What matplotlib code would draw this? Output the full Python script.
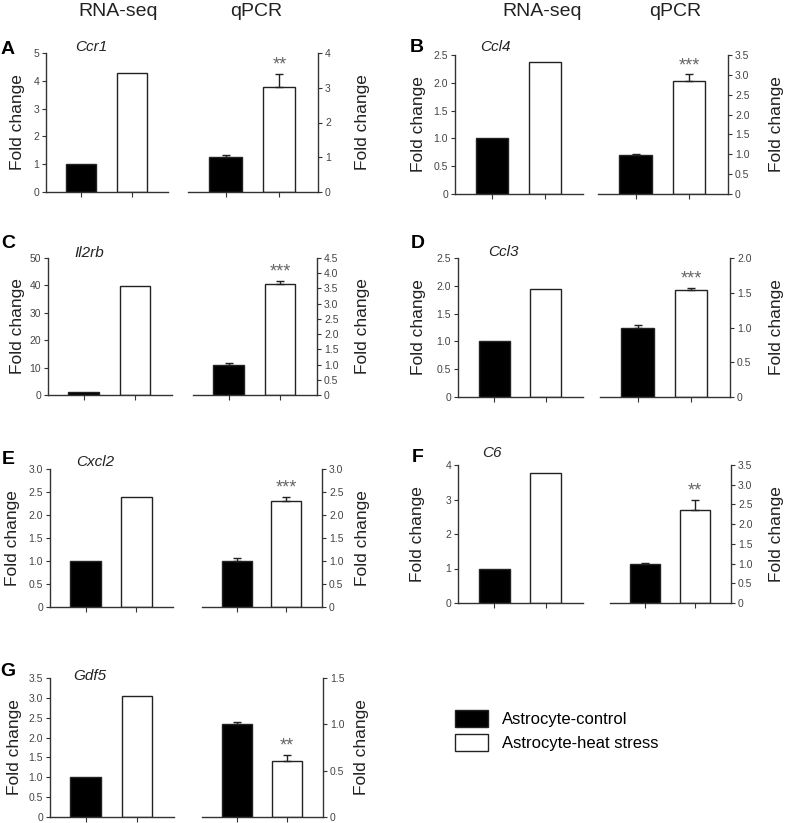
import matplotlib
matplotlib.use('Agg')
import matplotlib.pyplot as plt
from matplotlib.patches import Patch
from matplotlib.ticker import FixedLocator, FuncFormatter
import numpy as np

plt.rcParams['font.family'] = ['Liberation Sans', 'DejaVu Sans']

# data
letters = ['A', 'B', 'C', 'D', 'E', 'F', 'G']
genes = ['Ccr1', 'Ccl4', 'Il2rb', 'Ccl3', 'Cxcl2', 'C6', 'Gdf5']
groups = ['Astrocyte-control', 'Astrocyte-heat stress']

rnaseq_ctrl = [1.0, 1.0, 1.0, 1.0, 1.0, 1.0, 1.0]
rnaseq_heat = [4.28, 2.37, 39.7, 1.94, 2.39, 3.76, 3.05]

qpcr_ctrl = [1.01, 0.99, 0.98, 1.0, 0.99, 1.0, 1.0]
qpcr_ctrl_err = [0.06, 0.02, 0.06, 0.03, 0.07, 0.01, 0.03]
qpcr_heat = [3.01, 2.84, 3.66, 1.54, 2.31, 2.36, 0.60]
qpcr_heat_err = [0.39, 0.18, 0.10, 0.03, 0.09, 0.26, 0.07]
stars = ['**', '***', '***', '***', '***', '**', '**']

# axis limits (top, step)
rnaseq_lim = [(5, 1), (2.5, 0.5), (50, 10), (2.5, 0.5), (3.0, 0.5), (4, 1), (3.5, 0.5)]
qpcr_lim = [(4, 1), (3.5, 0.5), (4.5, 0.5), (2.0, 0.5), (3.0, 0.5), (3.5, 0.5), (1.5, 0.5)]

# layout in pixels: (rna left, rna right, qpcr left, qpcr right, top, bottom)
W, H = 787, 823
boxes = [
    (46, 168, 188, 318, 53, 192),
    (455, 583, 598, 728, 55, 194),
    (48, 172, 193, 317, 258, 395),
    (458, 583, 600, 730, 258, 397),
    (50, 173, 202, 322, 469, 607),
    (458, 583, 610, 731, 465, 603),
    (50, 174, 202, 323, 678, 817),
]
letter_pos = [(8, 50), (417, 48), (8, 243), (418, 243), (8, 460), (418, 457), (8, 672)]
gene_pos = [(75, 47), (480, 47), (74, 253), (488, 252), (76, 462), (482, 453), (73, 676)]
ylab_left = [18, 418, 18, 418, 13, 417, 15]
ylab_right = [362, 777, 362, 777, 362, 777, 362]

spine_c = '#333333'
tick_c = '#444444'


def rect(l, r, t, b):
    return [l / W, 1 - b / H, (r - l) / W, (b - t) / H]


def fmt_tick(step):
    def f(v, pos):
        if abs(v) < 1e-9:
            return '0'
        if step < 1:
            return '%.1f' % v
        return '%d' % round(v)
    return f


def style(ax, top, step, side):
    ax.set_xlim(-0.7, 1.72)
    ax.set_ylim(0, top)
    ticks = np.round(np.arange(0, top + step / 2, step), 3)
    ax.yaxis.set_major_locator(FixedLocator(ticks))
    ax.yaxis.set_major_formatter(FuncFormatter(fmt_tick(step)))
    ax.set_xticks([0, 1])
    ax.set_xticklabels([])
    for s in ['top', 'left', 'right']:
        ax.spines[s].set_visible(False)
    ax.spines[side].set_visible(True)
    for s in ['bottom', side]:
        ax.spines[s].set_color(spine_c)
        ax.spines[s].set_linewidth(1.0)
    if side == 'right':
        ax.yaxis.tick_right()
        ax.yaxis.set_label_position('right')
    ax.tick_params(axis='y', length=3, width=0.8, color=spine_c,
                   labelsize=7.5, labelcolor=tick_c, pad=2)
    ax.tick_params(axis='x', length=3.5, width=0.8, color=spine_c)


fig = plt.figure(figsize=(W / 100, H / 100), dpi=100)

for i in range(len(genes)):
    rl, rr, ql, qr, t, b = boxes[i]

    ax1 = fig.add_axes(rect(rl, rr, t, b))
    ax1.bar([0, 1], [rnaseq_ctrl[i], rnaseq_heat[i]], width=0.6,
            color=['black', 'white'], edgecolor='#222222', linewidth=1.0)
    style(ax1, rnaseq_lim[i][0], rnaseq_lim[i][1], 'left')
    ax1.set_ylabel('Fold change', fontsize=12.5, color='#222222')
    ax1.yaxis.label.set_verticalalignment('center')
    ax1.yaxis.set_label_coords((ylab_left[i] - rl) / (rr - rl), 0.5)

    ax2 = fig.add_axes(rect(ql, qr, t, b))
    ax2.bar([0, 1], [qpcr_ctrl[i], qpcr_heat[i]], width=0.6,
            color=['black', 'white'], edgecolor='#222222', linewidth=1.0)
    ax2.errorbar([0, 1], [qpcr_ctrl[i], qpcr_heat[i]],
                 yerr=[[0, 0], [qpcr_ctrl_err[i], qpcr_heat_err[i]]],
                 fmt='none', ecolor='#222222', elinewidth=1.0, capsize=3, capthick=1.0)
    style(ax2, qpcr_lim[i][0], qpcr_lim[i][1], 'right')
    ax2.annotate(stars[i], xy=(1, qpcr_heat[i] + qpcr_heat_err[i]), xytext=(0, 0),
                 textcoords='offset points', ha='center', va='bottom',
                 fontsize=13, color='#666666')
    ax2.set_ylabel('Fold change', fontsize=12.5, color='#222222')
    ax2.yaxis.label.set_verticalalignment('center')
    ax2.yaxis.set_label_coords((ylab_right[i] - ql) / (qr - ql), 0.5)

    lx, ly = letter_pos[i]
    fig.text(lx / W, 1 - ly / H, letters[i], fontsize=14, fontweight='bold',
             ha='center', va='center')
    gx, gy = gene_pos[i]
    fig.text(gx / W, 1 - gy / H, genes[i], fontsize=11, style='italic',
             ha='left', va='center', color='#222222')

# column headers
for cx in [118, 542]:
    fig.text(cx / W, 1 - 12 / H, 'RNA-seq', fontsize=14, ha='center', va='center', color='#222222')
for cx in [256, 675]:
    fig.text(cx / W, 1 - 12 / H, 'qPCR', fontsize=14, ha='center', va='center', color='#222222')

handles = [Patch(facecolor='black', edgecolor='#222222', linewidth=1.0),
           Patch(facecolor='white', edgecolor='#222222', linewidth=1.0)]
fig.legend(handles, groups, loc='upper left', bbox_to_anchor=(455 / W, 1 - 710 / H),
           frameon=False, fontsize=12, handlelength=2.0, handleheight=1.15,
           handletextpad=0.8, labelspacing=0.45, borderaxespad=0, borderpad=0)

fig.savefig('out.png', dpi=100)
